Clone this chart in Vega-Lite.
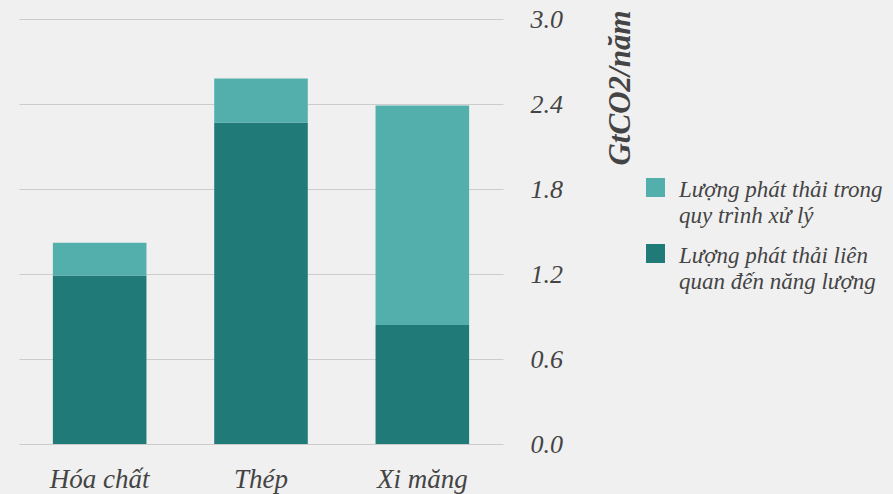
{
  "$schema": "https://vega.github.io/schema/vega-lite/v6.json",
  "width": 484,
  "height": 425,
  "autosize": "none",
  "padding": {"left": 19, "top": 19, "right": 390, "bottom": 50},
  "background": "#f0f0f0",
  "config": {
    "view": {"stroke": null},
    "font": "Liberation Serif",
    "style": {"guide-label": {"lineHeight": 26}}
  },
  "data": {
    "values": [
      {"sector": "Hóa chất", "type": "Lượng phát thải liên quan đến năng lượng", "value": 1.19},
      {"sector": "Hóa chất", "type": "Lượng phát thải trong quy trình xử lý", "value": 0.23},
      {"sector": "Thép", "type": "Lượng phát thải liên quan đến năng lượng", "value": 2.27},
      {"sector": "Thép", "type": "Lượng phát thải trong quy trình xử lý", "value": 0.31},
      {"sector": "Xi măng", "type": "Lượng phát thải liên quan đến năng lượng", "value": 0.84},
      {"sector": "Xi măng", "type": "Lượng phát thải trong quy trình xử lý", "value": 1.55}
    ]
  },
  "mark": {"type": "bar"},
  "encoding": {
    "x": {
      "field": "sector",
      "type": "nominal",
      "sort": ["Hóa chất", "Thép", "Xi măng"],
      "scale": {"paddingInner": 0.42, "paddingOuter": 0.21},
      "axis": {
        "title": null,
        "labelAngle": 0,
        "domain": false,
        "ticks": false,
        "labelPadding": 22,
        "labelFont": "Liberation Serif",
        "labelFontStyle": "italic",
        "labelFontSize": 27,
        "labelColor": "#444444"
      }
    },
    "y": {
      "field": "value",
      "type": "quantitative",
      "stack": "zero",
      "scale": {"domain": [0, 3]},
      "axis": {
        "orient": "right",
        "values": [0, 0.6, 1.2, 1.8, 2.4, 3.0],
        "format": ".1f",
        "title": "GtCO2/năm",
        "titleAngle": 270,
        "titleAlign": "right",
        "titleBaseline": "alphabetic",
        "titleX": 126,
        "titleY": -9,
        "titleFont": "Liberation Serif",
        "titleFontStyle": "italic",
        "titleFontWeight": "bold",
        "titleFontSize": 31,
        "titleColor": "#444444",
        "domain": false,
        "ticks": false,
        "grid": true,
        "gridColor": "#cccccc",
        "gridWidth": 1,
        "labelPadding": 27,
        "labelFont": "Liberation Serif",
        "labelFontStyle": "italic",
        "labelFontSize": 26,
        "labelColor": "#444444"
      }
    },
    "color": {
      "field": "type",
      "type": "nominal",
      "scale": {
        "domain": ["Lượng phát thải trong quy trình xử lý", "Lượng phát thải liên quan đến năng lượng"],
        "range": ["#52afac", "#1f7a78"]
      },
      "legend": {
        "title": null,
        "orient": "none",
        "legendX": 625,
        "legendY": 157,
        "symbolType": "square",
        "symbolSize": 361,
        "symbolStrokeWidth": 0,
        "symbolOpacity": 1,
        "labelFont": "Liberation Serif",
        "labelFontStyle": "italic",
        "labelFontSize": 23,
        "labelColor": "#444444",
        "labelOffset": 12,
        "labelLimit": 300,
        "rowPadding": 14,
        "labelBaseline": "alphabetic",
        "labelExpr": "datum.label == 'Lượng phát thải trong quy trình xử lý' ? ['Lượng phát thải trong', 'quy trình xử lý'] : ['Lượng phát thải liên', 'quan đến năng lượng']",
        "encode": {"labels": {"update": {"dy": {"value": 9}}}}
      }
    },
    "order": {"field": "type", "sort": "ascending"}
  }
}
